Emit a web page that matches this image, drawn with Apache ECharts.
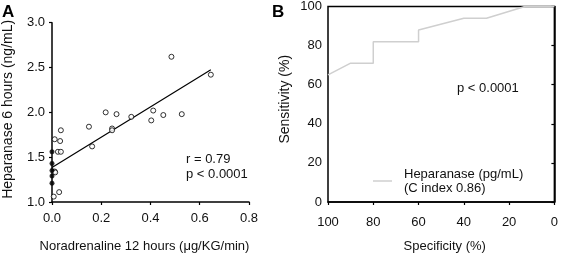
<!DOCTYPE html>
<html>
<head>
<meta charset="utf-8">
<script src="https://cdn.jsdelivr.net/npm/echarts@6/dist/echarts.min.js"></script>
<style>
  html, body { margin: 0; padding: 0; background: #fff; }
  #chart { width: 561px; height: 258px; }
</style>
</head>
<body>
<div id="chart"></div>
<script>
// panel A: noradrenaline (x) vs heparanase (y)
const noradX = [0, 0, 0, 0, 0, 0.007, 0.029, 0.011, 0.013, 0.011, 0.033, 0.036, 0.024, 0.036,
  0.150, 0.163, 0.218, 0.244, 0.244, 0.262, 0.322, 0.403, 0.411, 0.452, 0.485, 0.527, 0.645]
const heparY = [1.56, 1.43, 1.35, 1.29, 1.21, 1.06, 1.11, 1.34, 1.33, 1.70, 1.68, 1.80, 1.56, 1.56,
  1.84, 1.62, 2.00, 1.82, 1.80, 1.98, 1.95, 1.91, 2.02, 1.97, 2.62, 1.98, 2.42]
// regression line ends
const fitX = [0, 0.645]
const fitY = [1.385, 2.475]

// panel B: ROC curve
const specX = [100, 90, 80, 80, 60, 60, 40, 30, 13, 0]
const sensY = [65, 71, 71, 82, 82, 88, 94, 94, 100, 100]

const fontFamily = "'Liberation Sans', Arial, sans-serif"
const textColor = '#111'

let myChart = echarts.init(document.getElementById('chart'), null, { renderer: 'canvas' })

let scatterData = noradX.map((x, i) => [x, heparY[i]])
// points sitting on the y axis look filled in the original
let onAxisData = scatterData.filter(d => d[0] === 0)
let offAxisData = scatterData.filter(d => d[0] !== 0)
let fitData = fitX.map((x, i) => [x, fitY[i]])
let rocData = specX.map((x, i) => [x, sensY[i]])

let oneDecimal = v => Number(v).toFixed(1)

let axisCommon = {
  axisLine: { show: true, lineStyle: { color: '#000', width: 1.5 } },
  axisTick: { show: true, length: 3, lineStyle: { color: '#000', width: 1.2 } },
  splitLine: { show: false },
  nameLocation: 'middle'
}

let option = {
  animation: false,
  textStyle: { fontFamily: fontFamily },
  grid: [
    { left: 50, top: 22.7, width: 199, height: 184 },
    { left: 328, top: 4, width: 227, height: 203, show: true, borderColor: '#000', borderWidth: 1.5 }
  ],
  xAxis: [
    Object.assign({}, axisCommon, {
      gridIndex: 0,
      type: 'value',
      min: 0,
      max: 0.8,
      interval: 0.2,
      name: 'Noradrenaline 12 hours (μg/KG/min)',
      nameGap: 38,
      nameTextStyle: { color: textColor, fontSize: 13, padding: [0, 12, 0, 0] },
      axisLabel: { color: textColor, fontSize: 13, margin: 10, formatter: oneDecimal }
    }),
    Object.assign({}, axisCommon, {
      gridIndex: 1,
      type: 'value',
      min: 0,
      max: 100,
      interval: 20,
      inverse: true,
      name: 'Specificity (%)',
      nameGap: 38,
      nameTextStyle: { color: textColor, fontSize: 13, padding: [0, 0, 0, 7] },
      axisLabel: { color: textColor, fontSize: 13, margin: 14 }
    })
  ],
  yAxis: [
    Object.assign({}, axisCommon, {
      gridIndex: 0,
      type: 'value',
      min: 1,
      max: 3,
      interval: 0.5,
      name: 'Heparanase 6 hours (ng/mL)',
      nameGap: 37,
      nameTextStyle: { color: textColor, fontSize: 14, padding: [0, 0, 0, 6] },
      axisLabel: { color: textColor, fontSize: 13, margin: 7, formatter: oneDecimal }
    }),
    Object.assign({}, axisCommon, {
      gridIndex: 1,
      type: 'value',
      min: 0,
      max: 100,
      interval: 20,
      name: 'Sensitivity (%)',
      nameGap: 36,
      nameTextStyle: { color: textColor, fontSize: 14, padding: [0, 0, 0, 10] },
      axisLabel: { color: textColor, fontSize: 13, margin: 6 }
    })
  ],
  legend: {
    left: 368,
    top: 162,
    icon: 'rect',
    itemWidth: 19,
    itemHeight: 1.5,
    data: ['Heparanase (pg/mL)'],
    formatter: name => name + '\n(C index 0.86)',
    textStyle: { color: textColor, fontSize: 13, lineHeight: 14, padding: [0, 0, 0, 7] }
  },
  series: [
    {
      type: 'scatter',
      xAxisIndex: 0,
      yAxisIndex: 0,
      data: offAxisData,
      symbol: 'circle',
      symbolSize: 5,
      itemStyle: { color: '#fff', borderColor: '#000', borderWidth: 1 },
      z: 5
    },
    {
      type: 'scatter',
      xAxisIndex: 0,
      yAxisIndex: 0,
      data: onAxisData,
      symbol: 'circle',
      symbolSize: 4.5,
      itemStyle: { color: '#000', borderColor: '#000', borderWidth: 0.5 },
      z: 5
    },
    {
      type: 'line',
      xAxisIndex: 0,
      yAxisIndex: 0,
      data: fitData,
      showSymbol: false,
      lineStyle: { color: '#000', width: 1.2 },
      z: 4
    },
    {
      name: 'Heparanase (pg/mL)',
      type: 'line',
      xAxisIndex: 1,
      yAxisIndex: 1,
      data: rocData,
      showSymbol: false,
      itemStyle: { color: '#cfcfcf' },
      lineStyle: { color: '#cfcfcf', width: 1.5 }
    }
  ],
  graphic: [
    { type: 'text', left: 2, top: 4, style: { text: 'A', font: 'bold 17px ' + fontFamily, fill: '#000' } },
    { type: 'text', left: 272, top: 4, style: { text: 'B', font: 'bold 17px ' + fontFamily, fill: '#000' } },
    { type: 'text', left: 186, top: 152, style: { text: 'r = 0.79\np < 0.0001', font: '13px ' + fontFamily, lineHeight: 15, fill: textColor } },
    { type: 'text', left: 457, top: 82, style: { text: 'p < 0.0001', font: '13px ' + fontFamily, fill: textColor } }
  ]
}
myChart.setOption(option, true)
</script>
</body>
</html>
